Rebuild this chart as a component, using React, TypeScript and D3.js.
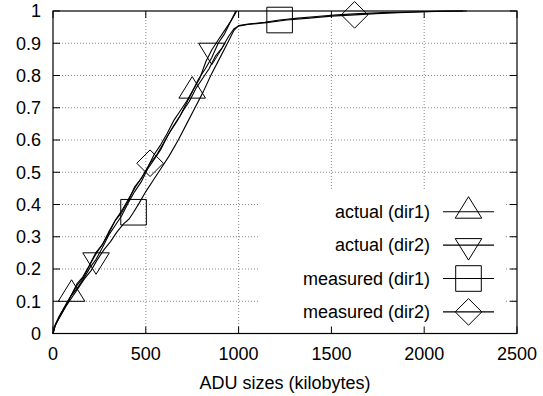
import React from "react";
import * as d3 from "d3";

const W = 543;
const H = 396;

const xTicks = [0, 500, 1000, 1500, 2000, 2500];
const yTicks = [0, 0.1, 0.2, 0.3, 0.4, 0.5, 0.6, 0.7, 0.8, 0.9, 1];

const actualDir1Size = [0, 8, 25, 50, 75, 100, 130, 160, 195, 230, 265, 300, 335, 370, 405, 440, 475, 510, 545, 580, 615, 650, 685, 720, 750, 785, 820, 855, 890, 925, 955, 985];
const actualDir1Cdf = [0, 0.02, 0.04, 0.07, 0.095, 0.12, 0.155, 0.175, 0.21, 0.25, 0.275, 0.31, 0.35, 0.375, 0.41, 0.455, 0.48, 0.515, 0.555, 0.585, 0.62, 0.66, 0.69, 0.72, 0.75, 0.79, 0.82, 0.855, 0.9, 0.93, 0.965, 1.0];

const actualDir2Size = [0, 12, 35, 65, 95, 130, 165, 200, 232, 265, 300, 335, 370, 405, 440, 475, 510, 545, 580, 615, 650, 685, 720, 755, 790, 825, 856, 890, 925, 960, 990];
const actualDir2Cdf = [0, 0.025, 0.05, 0.08, 0.115, 0.14, 0.17, 0.205, 0.23, 0.265, 0.305, 0.335, 0.365, 0.405, 0.44, 0.47, 0.51, 0.54, 0.57, 0.61, 0.645, 0.675, 0.715, 0.755, 0.79, 0.845, 0.88, 0.91, 0.94, 0.97, 1.0];

const measuredDir1Size = [0, 15, 40, 70, 100, 135, 170, 205, 240, 275, 310, 345, 380, 410, 434, 465, 500, 540, 580, 625, 675, 720, 765, 810, 850, 895, 940, 975, 1000, 1060, 1140, 1221, 1320, 1420, 1530, 1650, 1780, 1920, 2060, 2230];
const measuredDir1Cdf = [0, 0.03, 0.055, 0.085, 0.11, 0.14, 0.17, 0.195, 0.23, 0.26, 0.285, 0.315, 0.34, 0.355, 0.376, 0.405, 0.44, 0.475, 0.51, 0.55, 0.6, 0.65, 0.7, 0.75, 0.8, 0.85, 0.9, 0.94, 0.955, 0.96, 0.965, 0.972, 0.978, 0.983, 0.988, 0.992, 0.995, 0.997, 0.999, 1.0];

const measuredDir2Size = [0, 10, 30, 60, 95, 130, 165, 200, 235, 270, 305, 340, 375, 410, 445, 485, 523, 560, 595, 630, 665, 700, 735, 770, 805, 840, 875, 910, 945, 975, 998, 1050, 1150, 1260, 1380, 1500, 1625, 1740, 1860, 1980, 2100, 2210];
const measuredDir2Cdf = [0, 0.025, 0.05, 0.08, 0.115, 0.15, 0.175, 0.215, 0.25, 0.28, 0.32, 0.355, 0.385, 0.42, 0.455, 0.49, 0.528, 0.555, 0.59, 0.625, 0.655, 0.69, 0.72, 0.76, 0.79, 0.82, 0.86, 0.885, 0.92, 0.945, 0.953, 0.958, 0.964, 0.972, 0.978, 0.984, 0.988, 0.992, 0.995, 0.997, 0.999, 1.0];

const seriesNames = ["actual (dir1)", "actual (dir2)", "measured (dir1)", "measured (dir2)"];
const seriesMarkers = ["triUp", "triDown", "square", "diamond"];
const markerSizes = [
  [100, 750],
  [232, 856],
  [434, 1221],
  [523, 1625],
];

const seriesList = [
  { sizes: actualDir1Size, cdf: actualDir1Cdf },
  { sizes: actualDir2Size, cdf: actualDir2Cdf },
  { sizes: measuredDir1Size, cdf: measuredDir1Cdf },
  { sizes: measuredDir2Size, cdf: measuredDir2Cdf },
];

const FONT = "'Liberation Sans', Arial, Helvetica, sans-serif";

function markerPath(kind: string, cx: number, cy: number): string {
  const hw = 13.3;
  if (kind === "triUp") {
    return `M${cx - hw},${cy + 6.5}L${cx + hw},${cy + 6.5}L${cx},${cy - 15}Z`;
  }
  if (kind === "triDown") {
    return `M${cx - hw},${cy - 6.5}L${cx + hw},${cy - 6.5}L${cx},${cy + 15}Z`;
  }
  if (kind === "square") {
    return `M${cx - 12.8},${cy - 12.8}h25.6v25.6h-25.6Z`;
  }
  return `M${cx},${cy - 13.3}L${cx + 13.3},${cy}L${cx},${cy + 13.3}L${cx - 13.3},${cy}Z`;
}

function interp(sizes: number[], cdf: number[], v: number): number {
  const i = d3.bisectRight(sizes, v);
  if (i <= 0) return cdf[0];
  if (i >= sizes.length) return cdf[cdf.length - 1];
  const t = (v - sizes[i - 1]) / (sizes[i] - sizes[i - 1]);
  return cdf[i - 1] + t * (cdf[i] - cdf[i - 1]);
}

export default function App() {
  const left = 53, right = 517, top = 11, bottom = 333.5;
  const x = d3.scaleLinear().domain([0, 2500]).range([left, right]);
  const y = d3.scaleLinear().domain([0, 1]).range([bottom, top]);
  const line = d3
    .line<[number, number]>()
    .x((d) => x(d[0]))
    .y((d) => y(d[1]));

  const legendTextX = 430;
  const legendLineX1 = 443;
  const legendLineX2 = 494;
  const legendMarkX = 468.5;
  const legendRowY = (i: number) => 211.7 + i * 33.4;
  const tick = 7;
  const fs = 18;

  return (
    <svg width={W} height={H} style={{ position: "absolute", left: 0, top: 0, background: "#fff" }}>
      <rect x={0} y={0} width={W} height={H} fill="#fff" />
      {/* grid */}
      <g stroke="#8a8a8a" strokeWidth={1} strokeDasharray="1,2">
        {xTicks.filter((t) => t > 0 && t < 2500).map((t) => (
          <line key={"gx" + t} x1={x(t)} x2={x(t)} y1={top} y2={bottom} />
        ))}
        {yTicks.filter((t) => t > 0 && t < 1).map((t) => (
          <line key={"gy" + t} x1={left} x2={right} y1={y(t)} y2={y(t)} />
        ))}
      </g>
      {/* legend background */}
      <rect x={258} y={191} width={247} height={bottom - 191} fill="#fff" />
      {/* ticks */}
      <g stroke="#000" strokeWidth={1}>
        {xTicks.map((t) => (
          <g key={"tx" + t}>
            <line x1={x(t)} x2={x(t)} y1={bottom} y2={bottom - tick} />
            <line x1={x(t)} x2={x(t)} y1={top} y2={top + tick} />
          </g>
        ))}
        {yTicks.map((t) => (
          <g key={"ty" + t}>
            <line x1={left} x2={left + tick} y1={y(t)} y2={y(t)} />
            <line x1={right} x2={right - tick} y1={y(t)} y2={y(t)} />
          </g>
        ))}
      </g>
      {/* frame */}
      <rect x={left} y={top} width={right - left} height={bottom - top} fill="none" stroke="#000" strokeWidth={1.2} />
      {/* tick labels */}
      <g fontFamily={FONT} fontSize={fs} fill="#000">
        {xTicks.map((t) => (
          <text key={"lx" + t} x={x(t)} y={359.5} textAnchor="middle">
            {String(t)}
          </text>
        ))}
        {yTicks.map((t) => (
          <text key={"ly" + t} x={41} y={y(t) + 6.3} textAnchor="end">
            {String(t)}
          </text>
        ))}
        <text x={(left + right) / 2} y={389} textAnchor="middle">
          ADU sizes (kilobytes)
        </text>
      </g>
      {/* curves */}
      <g fill="none" stroke="#000" strokeWidth={1.1} strokeLinejoin="round">
        {seriesList.map((s, i) => (
          <path key={"c" + i} d={line(s.sizes.map((v, j) => [v, s.cdf[j]] as [number, number])) || ""} />
        ))}
      </g>
      {/* markers */}
      <g fill="none" stroke="#000" strokeWidth={1}>
        {seriesList.map((s, i) =>
          markerSizes[i].map((v) => (
            <path key={"m" + i + "-" + v} d={markerPath(seriesMarkers[i], x(v), y(interp(s.sizes, s.cdf, v)))} />
          ))
        )}
      </g>
      {/* legend */}
      <g>
        {seriesNames.map((name, i) => (
          <g key={"lg" + i}>
            <text x={legendTextX} y={legendRowY(i) + 6.3} textAnchor="end" fontFamily={FONT} fontSize={fs} fill="#000">
              {name}
            </text>
            <line x1={legendLineX1} x2={legendLineX2} y1={legendRowY(i)} y2={legendRowY(i)} stroke="#000" strokeWidth={1.1} />
            <path d={markerPath(seriesMarkers[i], legendMarkX, legendRowY(i))} fill="none" stroke="#000" strokeWidth={1} />
          </g>
        ))}
      </g>
    </svg>
  );
}
